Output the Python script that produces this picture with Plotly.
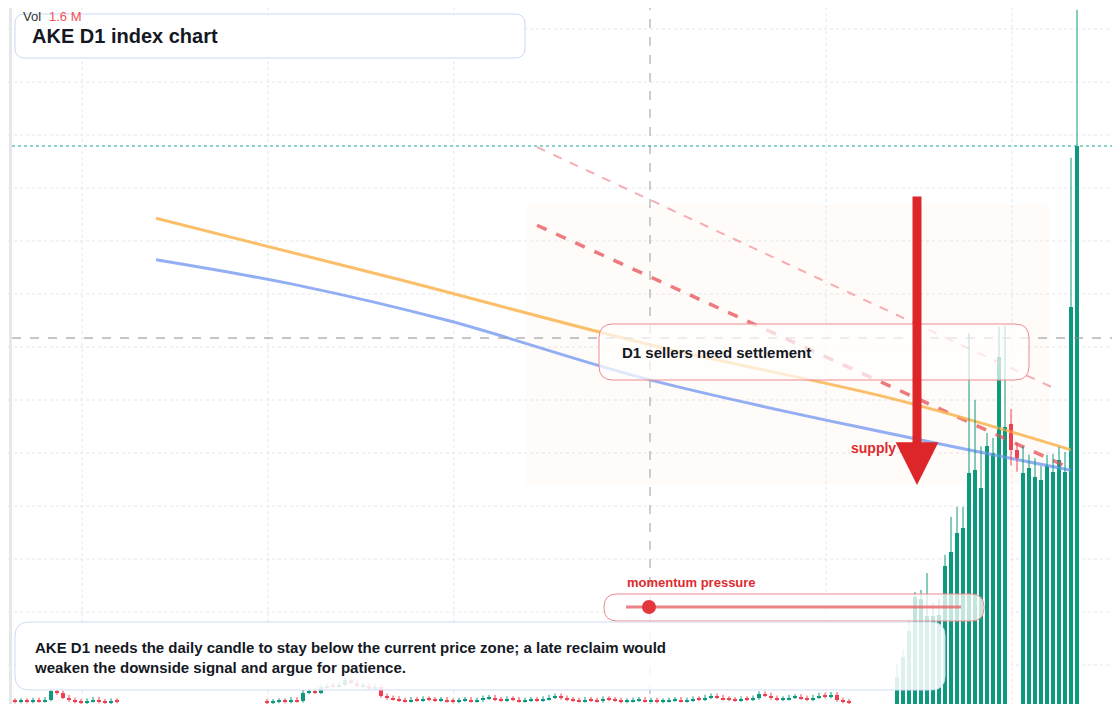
import plotly.graph_objects as go

# candle closes (price units), first flat stretch then the pump
left_closes = [0.3, 0.4, 0.3, 0.5, 0.4, 0.6, 1.8, 1.5, 0.9, 0.5, 0.3, 0.2, 0.4, 0.6, 0.3, 0.2, 0.4, 0.3]
mid_closes = [0.2, 0.3, 0.4, 0.3, 0.6, 0.4, 1.6, 1.9, 1.6, 2.4, 2.6, 2.5, 2.7, 3.4, 3.0, 2.5, 2.6, 2.2, 2.4,
              1.1, 0.8, 0.7, 0.5, 0.4, 0.6, 0.5, 0.7, 0.6, 0.5, 0.6, 0.4, 0.3, 0.5, 0.6, 0.4, 0.5, 0.8, 0.9,
              0.6, 0.5, 0.7, 0.6, 0.4, 0.5, 0.6, 0.5, 0.7, 0.9, 1.1, 0.8, 0.6, 0.5, 0.4, 0.6, 0.5, 0.4, 0.7,
              0.6, 0.5, 0.3, 0.4, 0.5, 0.6, 0.4, 0.5, 0.3, 0.4, 0.5, 0.6, 0.4, 0.5, 0.7, 0.6, 0.9, 1.1, 0.9,
              0.7, 0.6, 0.5, 0.7, 0.6, 0.8, 1.4, 1.2, 0.8, 0.6, 0.7, 0.9, 1.0, 0.8, 0.6, 0.9, 1.2, 1.0, 1.3,
              0.5, 0.3, 0.2]
mid_start = 42

pump_idx = list(range(147, 178))
pump_open = [0.0] * 19 + [39.8, 36.1] + [0.0] * 10
pump_close = [3.8, 6.7, 10.4, 15.2, 14.9, 12.5, 12.5, 12.6, 19.6, 21.6, 24.3, 25.0, 32.8, 33.2, 30.7,
              36.6, 35.7, 49.3, 39.3, 36.1, 34.9, 32.8, 33.5, 32.2, 31.8, 33.8, 33.0, 34.7, 33.0, 56.4, 79.3]
pump_high = [5.7, 7.8, 12.0, 15.9, 16.2, 18.6, 14.3, 14.9, 21.2, 26.6, 28.0, 28.0, 52.7, 43.2, 36.6,
             38.5, 37.8, 53.6, 53.8, 41.9, 37.1, 36.6, 35.4, 34.9, 33.8, 35.4, 35.5, 36.5, 35.8, 77.6, 98.6]
pump_low = [0.0] * 19 + [33.9, 33.0] + [0.0] * 10

idx, o, h, l, c = [], [], [], [], []
prev = 0.4
for i, v in enumerate(left_closes):
    idx.append(i); o.append(prev); c.append(v)
    h.append(max(prev, v) + 0.4); l.append(max(min(prev, v) - 0.2, 0))
    prev = v
prev = 0.3
for k, v in enumerate(mid_closes):
    idx.append(mid_start + k); o.append(prev); c.append(v)
    h.append(max(prev, v) + 0.4); l.append(max(min(prev, v) - 0.2, 0))
    prev = v
idx += pump_idx; o += pump_open; h += pump_high; l += pump_low; c += pump_close

# overlay lines (candle index, price)
orange_x = [23.5, 64, 106, 147, 176]
orange_y = [69.0, 60.3, 51.0, 43.2, 36.1]
blue_x = [23.5, 47, 72, 106, 147, 176]
blue_y = [63.1, 59.5, 54.5, 46.0, 38.2, 33.2]
red_x = [87, 174.8]
red_y = [68.0, 33.9]
pink_x = [87, 172.8]
pink_y = [79.1, 45.0]

W, H = 1120, 704
OX, OY = 9, 8  # page offset of the plot
XMIN = -2.67 + OX / 6
def px(x): return (x - OX) / W
def py(y): return 1 - (y - OY) / H

GREEN, RED = "#0d9a7e", "#f0404f"

fig = go.Figure()
fig.add_trace(go.Scatter(x=pink_x, y=pink_y, mode="lines",
                         line=dict(color="rgba(240,120,130,0.6)", width=2, dash="dash"), hoverinfo="skip"))
fig.add_trace(go.Scatter(x=red_x, y=red_y, mode="lines",
                         line=dict(color="rgba(232,90,95,0.8)", width=3.5, dash="dash"), hoverinfo="skip"))
fig.add_trace(go.Scatter(x=orange_x, y=orange_y, mode="lines", line_shape="spline",
                         line=dict(color="rgba(250,180,80,0.85)", width=3), hoverinfo="skip"))
fig.add_trace(go.Scatter(x=blue_x, y=blue_y, mode="lines", line_shape="spline",
                         line=dict(color="rgba(120,155,240,0.8)", width=3), hoverinfo="skip"))

# candles drawn as wick lines + body bars
cols = [GREEN if cc >= oo else RED for oo, cc in zip(o, c)]
for colr in (GREEN, RED):
    wx, wy = [], []
    for i, oo, hh, ll, cc, k in zip(idx, o, h, l, c, cols):
        if k == colr:
            wx += [i, i, None]; wy += [ll, hh, None]
    fig.add_trace(go.Scatter(x=wx, y=wy, mode="lines", line=dict(color=colr, width=1), hoverinfo="skip"))
fig.add_trace(go.Bar(x=idx, base=[min(a, b) for a, b in zip(o, c)],
                     y=[max(abs(b - a), 0.15) for a, b in zip(o, c)],
                     width=0.8, marker=dict(color=cols, line_width=0)))

def rrect(x0, y0, x1, y1, r=10):
    a, b, c2, d = px(x0), py(y0), px(x1), py(y1)
    rx, ry = r / W, r / H
    return (f"M{a+rx},{b} L{c2-rx},{b} Q{c2},{b} {c2},{b-ry} L{c2},{d+ry} Q{c2},{d} {c2-rx},{d} "
            f"L{a+rx},{d} Q{a},{d} {a},{d+ry} L{a},{b-ry} Q{a},{b} {a+rx},{b} Z")

shapes = []
for gy in range(29, 704, 53):
    shapes.append(dict(type="line", xref="paper", yref="paper", x0=0, x1=1, y0=py(gy), y1=py(gy),
                       line=dict(color="#e3e5ea", width=1, dash="dot"), layer="below"))
for gx in [83, 269, 455, 827, 1013]:
    shapes.append(dict(type="line", xref="paper", yref="paper", x0=px(gx), x1=px(gx), y0=0, y1=1,
                       line=dict(color="#e3e5ea", width=1, dash="dot"), layer="below"))
shapes += [
    dict(type="rect", xref="paper", yref="paper", x0=px(10), x1=px(13), y0=0, y1=1,
         fillcolor="#e6e7eb", line_width=0),
    dict(type="rect", xref="paper", yref="paper", x0=px(527), x1=px(1050), y0=py(485), y1=py(205),
         fillcolor="rgba(250,225,210,0.15)", line_width=0, layer="below"),
    dict(type="line", xref="paper", yref="paper", x0=px(651), x1=px(651), y0=0, y1=1,
         line=dict(color="#9a9ca3", width=1, dash="dash")),
    dict(type="line", xref="paper", yref="paper", x0=px(13), x1=1, y0=py(338), y1=py(338),
         line=dict(color="#8a8c93", width=1, dash="dash")),
    dict(type="line", xref="paper", yref="paper", x0=px(13), x1=1, y0=py(146), y1=py(146),
         line=dict(color="#19a59a", width=1, dash="dot")),
    dict(type="line", xref="paper", yref="paper", x0=px(1118), x1=px(1118), y0=py(328), y1=py(348),
         line=dict(color="#222", width=2)),
    dict(type="path", xref="paper", yref="paper", path=rrect(16, 14, 526, 58),
         fillcolor="rgba(255,255,255,0.92)", line=dict(color="#c9d8f5", width=1)),
    dict(type="path", xref="paper", yref="paper", path=rrect(600, 324, 1030, 380, 14),
         fillcolor="rgba(255,255,255,0.7)", line=dict(color="#ef8a8f", width=1)),
    dict(type="path", xref="paper", yref="paper", path=rrect(605, 594, 985, 621, 13),
         fillcolor="rgba(255,255,255,0.75)", line=dict(color="#ef8a8f", width=1)),
    dict(type="line", xref="paper", yref="paper", x0=px(627), x1=px(962), y0=py(607), y1=py(607),
         line=dict(color="rgba(232,100,105,0.8)", width=3)),
    dict(type="circle", xref="paper", yref="paper", x0=px(643), x1=px(657), y0=py(614), y1=py(600),
         fillcolor="#e2373d", line_width=0),
    dict(type="path", xref="paper", yref="paper", path=rrect(16, 622, 946, 690, 14),
         fillcolor="rgba(255,255,255,0.86)", line=dict(color="#cfdcf6", width=1)),
]

font = "Liberation Sans, Arial, sans-serif"
ann = [
    dict(x=px(23), y=1, yanchor="top", text="Vol", font=dict(size=13, color="#333")),
    dict(x=px(49), y=1, yanchor="top", text="1.6 M", font=dict(size=13, color="#f0505a")),
    dict(x=px(32), y=py(36), text="<b>AKE D1 index chart</b>", font=dict(size=20, color="#141822")),
    dict(x=px(622), y=py(353), text="<b>D1 sellers need settlement</b>", font=dict(size=15, color="#141822")),
    dict(x=px(851), y=py(448), text="<b>supply zone</b>", font=dict(size=14, color="#dd2b30")),
    dict(x=px(627), y=py(582), text="<b>momentum pressure</b>", font=dict(size=13, color="#dd2b30")),
    dict(x=px(34), y=py(657), text="<b>AKE D1 needs the daily candle to stay below the current price zone; a late reclaim would"
         "<br>weaken the downside signal and argue for patience.</b>", font=dict(size=15, color="#141822"), align="left"),
]
for a in ann:
    a.setdefault("yanchor", "middle")
    a.update(xref="paper", yref="paper", xanchor="left", showarrow=False, borderpad=0)
    a["font"]["family"] = font

# arrow on top of the supply label
ann.append(dict(xref="paper", yref="paper", x=px(918), y=py(485), ax=0, ay=-290,
                axref="pixel", ayref="pixel", text="", showarrow=True, arrowhead=2, arrowsize=0.95,
                arrowwidth=9, arrowcolor="#dd2629", standoff=0))

fig.update_layout(
    width=W, height=H, margin=dict(l=0, r=0, t=0, b=0), paper_bgcolor="white", plot_bgcolor="white",
    showlegend=False, shapes=shapes, annotations=ann, bargap=0,
    xaxis=dict(range=[XMIN, XMIN + W / 6], visible=False),
    yaxis=dict(range=[-OY / 7.04, 100 - OY / 7.04], visible=False),
)
fig.write_html("out.html")
